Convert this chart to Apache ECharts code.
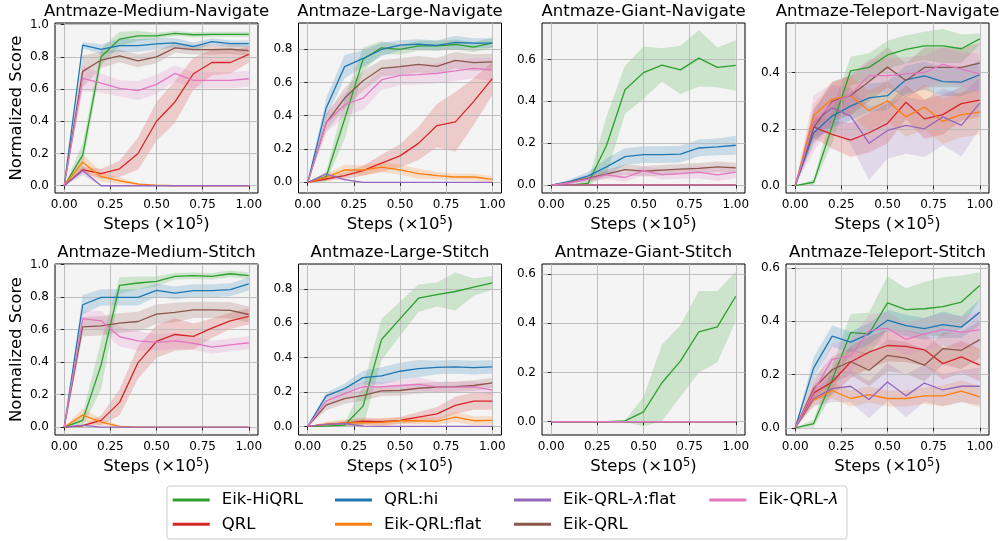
<!DOCTYPE html>
<html><head><meta charset="utf-8">
<script src="https://cdn.jsdelivr.net/npm/echarts@6/dist/echarts.min.js"></script>
<style>html,body{margin:0;padding:0;background:#fff}#c{width:1001px;height:541px}</style>
</head><body><div id="c"></div>
<script>
// ---------------- DATA ----------------
const steps = [0, 0.1, 0.2, 0.3, 0.4, 0.5, 0.6, 0.7, 0.8, 0.9, 1.0];
const methodNames = ['Eik-HiQRL', 'QRL', 'QRL:hi', 'Eik-QRL:flat', 'Eik-QRL-λ:flat', 'Eik-QRL', 'Eik-QRL-λ'];
const panelTitles = ['Antmaze-Medium-Navigate', 'Antmaze-Large-Navigate', 'Antmaze-Giant-Navigate', 'Antmaze-Teleport-Navigate',
  'Antmaze-Medium-Stitch', 'Antmaze-Large-Stitch', 'Antmaze-Giant-Stitch', 'Antmaze-Teleport-Stitch'];
const xTickValues = [0, 0.25, 0.5, 0.75, 1.0];
const yTickValues = [
  [0, 0.2, 0.4, 0.6, 0.8, 1.0], [0, 0.2, 0.4, 0.6, 0.8], [0, 0.2, 0.4, 0.6], [0, 0.2, 0.4],
  [0, 0.2, 0.4, 0.6, 0.8, 1.0], [0, 0.2, 0.4, 0.6, 0.8], [0, 0.2, 0.4, 0.6], [0, 0.2, 0.4, 0.6]
];
const Z = [0, 0, 0, 0, 0, 0, 0, 0, 0, 0, 0];

// order of rows in each panel: Eik-HiQRL, QRL, QRL:hi, Eik-QRL:flat, Eik-QRL-λ:flat, Eik-QRL, Eik-QRL-λ
const mediumNavigateMean = [
  [0, 0.19, 0.80, 0.91, 0.93, 0.93, 0.945, 0.937, 0.94, 0.94, 0.94],
  [0, 0.10, 0.075, 0.105, 0.20, 0.40, 0.52, 0.695, 0.765, 0.765, 0.815],
  [0, 0.872, 0.847, 0.87, 0.87, 0.88, 0.887, 0.864, 0.895, 0.882, 0.882],
  [0, 0.146, 0.056, 0.031, 0.01, 0.003, 0, 0, 0, 0, 0],
  [0, 0.095, 0, 0, 0, 0, 0, 0, 0, 0, 0],
  [0, 0.71, 0.78, 0.806, 0.775, 0.80, 0.856, 0.845, 0.845, 0.847, 0.839],
  [0, 0.666, 0.637, 0.604, 0.59, 0.629, 0.697, 0.654, 0.654, 0.654, 0.664]
];
const mediumNavigateBand = [
  [0, 0.07, 0.05, 0.045, 0.03, 0.02, 0.015, 0.015, 0.015, 0.015, 0.015],
  [0, 0.02, 0.03, 0.05, 0.10, 0.12, 0.13, 0.10, 0.08, 0.07, 0.05],
  [0, 0.02, 0.03, 0.04, 0.04, 0.035, 0.03, 0.025, 0.02, 0.02, 0.02],
  [0, 0.05, 0.03, 0.02, 0.005, 0, 0, 0, 0, 0, 0],
  [0, 0.03, 0, 0, 0, 0, 0, 0, 0, 0, 0],
  [0, 0.10, 0.05, 0.04, 0.04, 0.04, 0.03, 0.03, 0.03, 0.03, 0.03],
  [0, 0.08, 0.06, 0.05, 0.06, 0.06, 0.05, 0.05, 0.05, 0.05, 0.05]
];
const largeNavigateMean = [
  [0, 0.034, 0.38, 0.74, 0.808, 0.798, 0.82, 0.82, 0.828, 0.812, 0.838],
  [0, 0.02, 0.04, 0.07, 0.115, 0.159, 0.234, 0.341, 0.363, 0.486, 0.623],
  [0, 0.447, 0.695, 0.744, 0.798, 0.824, 0.83, 0.822, 0.84, 0.836, 0.836],
  [0, 0.03, 0.075, 0.073, 0.091, 0.075, 0.052, 0.04, 0.032, 0.032, 0.018],
  [0, 0.05, 0.016, 0, 0, 0, 0, 0, 0, 0, 0],
  [0, 0.357, 0.506, 0.61, 0.685, 0.695, 0.709, 0.697, 0.733, 0.719, 0.723],
  [0, 0.357, 0.466, 0.506, 0.615, 0.643, 0.647, 0.655, 0.669, 0.685, 0.675]
];
const largeNavigateBand = [
  [0, 0.03, 0.12, 0.07, 0.04, 0.03, 0.03, 0.03, 0.03, 0.03, 0.03],
  [0, 0.01, 0.02, 0.03, 0.05, 0.07, 0.10, 0.13, 0.18, 0.14, 0.10],
  [0, 0.06, 0.07, 0.05, 0.04, 0.03, 0.03, 0.03, 0.04, 0.03, 0.03],
  [0, 0.02, 0.03, 0.03, 0.03, 0.03, 0.03, 0.02, 0.02, 0.02, 0.02],
  [0, 0.01, 0.005, 0, 0, 0, 0, 0, 0, 0, 0],
  [0, 0.05, 0.06, 0.06, 0.05, 0.05, 0.05, 0.05, 0.05, 0.05, 0.05],
  [0, 0.06, 0.07, 0.07, 0.06, 0.06, 0.06, 0.06, 0.06, 0.06, 0.07]
];
const giantNavigateMean = [
  [0, 0, 0.008, 0.19, 0.455, 0.537, 0.573, 0.55, 0.606, 0.562, 0.572],
  [0, 0, 0, 0, 0, 0, 0, 0, 0, 0, 0],
  [0, 0.016, 0.044, 0.087, 0.136, 0.145, 0.145, 0.148, 0.177, 0.182, 0.19],
  [0, 0, 0, 0, 0, 0, 0, 0, 0, 0, 0],
  [0, 0, 0, 0, 0, 0, 0, 0, 0, 0, 0],
  [0, 0.013, 0.033, 0.052, 0.074, 0.066, 0.071, 0.076, 0.08, 0.087, 0.082],
  [0, 0.011, 0.028, 0.049, 0.036, 0.068, 0.05, 0.055, 0.062, 0.049, 0.062]
];
const giantNavigateBand = [
  [0, 0, 0.01, 0.14, 0.115, 0.125, 0.08, 0.115, 0.135, 0.095, 0.12],
  [0, 0, 0, 0, 0, 0, 0, 0, 0, 0, 0],
  [0, 0.01, 0.02, 0.04, 0.04, 0.04, 0.04, 0.04, 0.04, 0.04, 0.045],
  [0, 0, 0, 0, 0, 0, 0, 0, 0, 0, 0],
  [0, 0, 0, 0, 0, 0, 0, 0, 0, 0, 0],
  [0, 0.01, 0.015, 0.02, 0.025, 0.025, 0.025, 0.025, 0.025, 0.025, 0.025],
  [0, 0.01, 0.015, 0.02, 0.02, 0.02, 0.025, 0.025, 0.03, 0.03, 0.03]
];
const teleportNavigateMean = [
  [0, 0.012, 0.21, 0.406, 0.418, 0.462, 0.482, 0.494, 0.494, 0.484, 0.519],
  [0, 0.208, 0.181, 0.161, 0.187, 0.22, 0.295, 0.236, 0.251, 0.29, 0.302],
  [0, 0.187, 0.246, 0.281, 0.31, 0.318, 0.374, 0.388, 0.368, 0.366, 0.392],
  [0, 0.248, 0.306, 0.318, 0.265, 0.30, 0.243, 0.278, 0.227, 0.251, 0.26],
  [0, 0.222, 0.275, 0.246, 0.15, 0.195, 0.213, 0.201, 0.243, 0.213, 0.292],
  [0, 0.205, 0.298, 0.319, 0.368, 0.419, 0.372, 0.418, 0.418, 0.418, 0.433],
  [0, 0.22, 0.292, 0.322, 0.389, 0.389, 0.395, 0.40, 0.429, 0.412, 0.395]
];
const teleportNavigateBand = [
  [0, 0.01, 0.06, 0.05, 0.05, 0.05, 0.05, 0.05, 0.06, 0.05, 0.02],
  [0, 0.04, 0.05, 0.06, 0.07, 0.07, 0.06, 0.07, 0.07, 0.06, 0.06],
  [0, 0.03, 0.04, 0.05, 0.05, 0.05, 0.05, 0.05, 0.05, 0.05, 0.05],
  [0, 0.04, 0.06, 0.07, 0.07, 0.07, 0.07, 0.08, 0.08, 0.08, 0.08],
  [0, 0.05, 0.08, 0.10, 0.13, 0.10, 0.10, 0.10, 0.10, 0.11, 0.09],
  [0, 0.06, 0.07, 0.07, 0.07, 0.07, 0.06, 0.07, 0.07, 0.07, 0.07],
  [0, 0.10, 0.07, 0.07, 0.06, 0.06, 0.06, 0.06, 0.06, 0.06, 0.07]
];
const mediumStitchMean = [
  [0, 0.041, 0.383, 0.872, 0.887, 0.897, 0.928, 0.932, 0.928, 0.944, 0.932],
  [0, 0.008, 0.041, 0.152, 0.397, 0.527, 0.57, 0.558, 0.609, 0.654, 0.681],
  [0, 0.753, 0.798, 0.798, 0.798, 0.842, 0.825, 0.84, 0.84, 0.846, 0.881],
  [0, 0.074, 0.031, 0.004, 0, 0, 0, 0, 0, 0, 0],
  [0, 0.01, 0, 0, 0, 0, 0, 0, 0, 0, 0],
  [0, 0.617, 0.623, 0.64, 0.65, 0.695, 0.706, 0.722, 0.722, 0.718, 0.693],
  [0, 0.667, 0.654, 0.556, 0.531, 0.521, 0.531, 0.516, 0.492, 0.506, 0.519]
];
const mediumStitchBand = [
  [0, 0.04, 0.15, 0.05, 0.04, 0.03, 0.02, 0.02, 0.02, 0.02, 0.02],
  [0, 0.005, 0.03, 0.08, 0.10, 0.10, 0.10, 0.08, 0.06, 0.05, 0.05],
  [0, 0.06, 0.05, 0.05, 0.05, 0.04, 0.04, 0.04, 0.04, 0.04, 0.04],
  [0, 0.04, 0.02, 0.005, 0, 0, 0, 0, 0, 0, 0],
  [0, 0, 0, 0, 0, 0, 0, 0, 0, 0, 0],
  [0, 0.06, 0.06, 0.06, 0.06, 0.06, 0.06, 0.05, 0.05, 0.05, 0.05],
  [0, 0.05, 0.06, 0.06, 0.06, 0.05, 0.05, 0.04, 0.04, 0.04, 0.04]
];
const largeStitchMean = [
  [0, 0.002, 0.008, 0.118, 0.506, 0.626, 0.746, 0.767, 0.785, 0.81, 0.835],
  [0, 0.012, 0.019, 0.031, 0.027, 0.035, 0.054, 0.073, 0.122, 0.147, 0.147],
  [0, 0.178, 0.22, 0.284, 0.294, 0.321, 0.336, 0.344, 0.346, 0.342, 0.346],
  [0, 0.012, 0.021, 0.021, 0.023, 0.033, 0.033, 0.029, 0.054, 0.033, 0.035],
  [0, 0.012, 0.017, 0.002, 0, 0, 0, 0, 0, 0, 0],
  [0, 0.124, 0.162, 0.18, 0.207, 0.209, 0.222, 0.228, 0.232, 0.238, 0.253],
  [0, 0.149, 0.191, 0.232, 0.23, 0.238, 0.245, 0.23, 0.228, 0.23, 0.211]
];
const largeStitchBand = [
  [0, 0.005, 0.01, 0.12, 0.12, 0.10, 0.08, 0.07, 0.11, 0.05, 0.04],
  [0, 0.01, 0.015, 0.02, 0.02, 0.02, 0.03, 0.04, 0.05, 0.05, 0.05],
  [0, 0.02, 0.03, 0.04, 0.05, 0.05, 0.05, 0.04, 0.04, 0.04, 0.04],
  [0, 0.015, 0.02, 0.02, 0.02, 0.02, 0.02, 0.02, 0.03, 0.025, 0.025],
  [0, 0.005, 0.005, 0, 0, 0, 0, 0, 0, 0, 0],
  [0, 0.03, 0.03, 0.03, 0.03, 0.03, 0.03, 0.03, 0.03, 0.03, 0.03],
  [0, 0.03, 0.03, 0.03, 0.03, 0.03, 0.04, 0.03, 0.03, 0.03, 0.03]
];
const giantStitchMean = [
  [0, 0, 0, 0, 0.003, 0.04, 0.158, 0.246, 0.365, 0.385, 0.509],
  Z, Z, Z, Z, Z, Z
];
const giantStitchBand = [
  [0, 0, 0, 0, 0.003, 0.06, 0.155, 0.145, 0.165, 0.145, 0.10],
  Z, Z, Z, Z, Z, Z
];
const teleportStitchMean = [
  [0, 0.016, 0.18, 0.357, 0.353, 0.469, 0.444, 0.447, 0.455, 0.472, 0.534],
  [0, 0.131, 0.172, 0.247, 0.284, 0.309, 0.306, 0.293, 0.241, 0.266, 0.235],
  [0, 0.225, 0.344, 0.322, 0.353, 0.404, 0.384, 0.372, 0.387, 0.378, 0.434],
  [0, 0.104, 0.14, 0.11, 0.125, 0.11, 0.11, 0.12, 0.12, 0.138, 0.116],
  [0, 0.11, 0.147, 0.156, 0.106, 0.172, 0.12, 0.168, 0.142, 0.156, 0.156],
  [0, 0.147, 0.218, 0.249, 0.216, 0.272, 0.262, 0.235, 0.297, 0.291, 0.331],
  [0, 0.137, 0.257, 0.269, 0.365, 0.374, 0.332, 0.353, 0.369, 0.359, 0.368]
];
const teleportStitchBand = [
  [0, 0.015, 0.05, 0.07, 0.08, 0.10, 0.08, 0.10, 0.11, 0.10, 0.05],
  [0, 0.03, 0.05, 0.06, 0.06, 0.06, 0.06, 0.06, 0.06, 0.06, 0.06],
  [0, 0.04, 0.04, 0.04, 0.04, 0.04, 0.04, 0.04, 0.05, 0.04, 0.05],
  [0, 0.02, 0.03, 0.03, 0.03, 0.03, 0.03, 0.03, 0.04, 0.04, 0.04],
  [0, 0.03, 0.05, 0.06, 0.07, 0.07, 0.08, 0.07, 0.06, 0.06, 0.07],
  [0, 0.04, 0.05, 0.05, 0.06, 0.06, 0.06, 0.06, 0.06, 0.07, 0.07],
  [0, 0.03, 0.06, 0.06, 0.06, 0.06, 0.06, 0.06, 0.06, 0.06, 0.07]
];

// ---------------- STYLE / LAYOUT ----------------
const methodColors = ['#2ca02c', '#d62728', '#1f77b4', '#ff7f0e', '#9467bd', '#8c564b', '#e377c2'];
const panelMeans = [mediumNavigateMean, largeNavigateMean, giantNavigateMean, teleportNavigateMean,
  mediumStitchMean, largeStitchMean, giantStitchMean, teleportStitchMean];
const panelBands = [mediumNavigateBand, largeNavigateBand, giantNavigateBand, teleportNavigateBand,
  mediumStitchBand, largeStitchBand, giantStitchBand, teleportStitchBand];
const yRange = [[-0.045, 1.01], [-0.064, 0.957], [-0.038, 0.774], [-0.026, 0.575],
  [-0.049, 1.004], [-0.05, 0.945], [-0.054, 0.64], [-0.027, 0.615]];
const colLeft = [55, 298.5, 542, 786];
const rowTop = [23, 264];
const rowH = [170, 171];
const plotW = 203;
const FONT = 'DejaVu Sans';

function rgba(hex, a) {
  const n = parseInt(hex.slice(1), 16);
  return 'rgba(' + (n >> 16) + ',' + ((n >> 8) & 255) + ',' + (n & 255) + ',' + a + ')';
}

const grids = [], xAxes = [], yAxes = [], series = [], graphics = [];
for (let p = 0; p < 8; p++) {
  const row = p >> 2, col = p % 4;
  grids.push({ left: colLeft[col], top: rowTop[row], width: plotW, height: rowH[row],
    show: true, backgroundColor: '#f4f4f4', borderColor: '#000', borderWidth: 1, containLabel: false });
  xAxes.push({
    type: 'value', gridIndex: p, min: -0.05, max: 1.05, z: 2,
    axisLine: { show: false },
    axisTick: { show: true, inside: false, length: 3.5, lineStyle: { color: '#000', width: 0.8 }, customValues: xTickValues },
    axisLabel: { customValues: xTickValues, formatter: v => v.toFixed(2), color: '#000', fontSize: 12, fontFamily: FONT, margin: 6 },
    splitLine: { show: true, lineStyle: { color: '#b8b8b8', width: 0.9 } },
    name: 'Steps (×10{sup|5})', nameLocation: 'middle', nameGap: 22,
    nameTextStyle: { fontSize: 16.5, fontFamily: FONT, color: '#000', lineHeight: 20,
      rich: { sup: { fontSize: 11.5, fontFamily: FONT, color: '#000', lineHeight: 6, verticalAlign: 'top' } } }
  });
  const ya = {
    type: 'value', gridIndex: p, min: yRange[p][0], max: yRange[p][1], z: 2,
    axisLine: { show: false },
    axisTick: { show: true, inside: false, length: 3.5, lineStyle: { color: '#000', width: 0.8 }, customValues: yTickValues[p] },
    axisLabel: { customValues: yTickValues[p], formatter: v => v.toFixed(1), color: '#000', fontSize: 12, fontFamily: FONT, margin: 6 },
    splitLine: { show: true, lineStyle: { color: '#b8b8b8', width: 0.9 } }
  };
  if (col === 0) {
    ya.name = 'Normalized Score'; ya.nameLocation = 'middle'; ya.nameGap = 30;
    ya.nameTextStyle = { fontSize: 16.5, fontFamily: FONT, color: '#000' };
  }
  yAxes.push(ya);

  for (let m = 0; m < methodNames.length; m++) {
    const mean = panelMeans[p][m], band = panelBands[p][m];
    const pts = steps.map((x, k) => [x, mean[k] - band[k], mean[k] + band[k]]);
    series.push({
      type: 'custom', xAxisIndex: p, yAxisIndex: p, z: 1, silent: true,
      data: pts, encode: { x: 0, y: [1, 2] },
      renderItem: function (params, api) {
        if (params.dataIndex !== 0) return null;
        const up = pts.map(d => api.coord([d[0], d[2]]));
        const lo = pts.map(d => api.coord([d[0], d[1]])).reverse();
        return { type: 'polygon', shape: { points: up.concat(lo) },
          style: { fill: rgba(methodColors[m], 0.2), stroke: 'none' } };
      }
    });
    series.push({
      type: 'line', name: methodNames[m], xAxisIndex: p, yAxisIndex: p, z: 3 + m * 0.01,
      data: steps.map((x, k) => [x, mean[k]]), symbol: 'none', silent: true,
      color: methodColors[m],
      lineStyle: { color: methodColors[m], width: 1.3 },
      itemStyle: { color: methodColors[m] }
    });
  }
  graphics.push({ type: 'text', x: colLeft[col] + plotW / 2, y: rowTop[row] - 11.5, z: 5,
    style: { text: panelTitles[p], fontSize: 16.5, fontFamily: FONT, fill: '#000',
      align: 'center', verticalAlign: 'middle', textAlign: 'center', textVerticalAlign: 'middle' } });
}

graphics.unshift({ type: 'rect', z: -1, shape: { x: 167, y: 486, width: 680, height: 53, r: 3 },
  style: { fill: '#ffffff', stroke: '#cccccc', lineWidth: 1 } });

const legendCols = [[0, 1], [2, 3], [4, 5], [6]];
const legendLeft = [172.7, 335, 514, 709.3];
const legends = legendCols.map((idx, c) => ({
  orient: 'vertical', left: legendLeft[c], top: 491, padding: 0, itemGap: 6.3,
  itemWidth: 37, itemHeight: 3, icon: 'rect', selectedMode: false,
  data: idx.map(i => methodNames[i]),
  formatter: name => name.replace('λ', '{it|λ}'),
  textStyle: { fontSize: 16.5, fontFamily: FONT, color: '#000', lineHeight: 18, padding: [0, 0, 0, 7],
    rich: { it: { fontStyle: 'italic', fontSize: 16.5, fontFamily: FONT, color: '#000', lineHeight: 18 } } }
}));

const chart = echarts.init(document.getElementById('c'), null, { renderer: 'canvas' });
chart.setOption({
  animation: false,
  backgroundColor: '#ffffff',
  grid: grids, xAxis: xAxes, yAxis: yAxes, series: series,
  legend: legends,
  graphic: { elements: graphics }
});
</script></body></html>
